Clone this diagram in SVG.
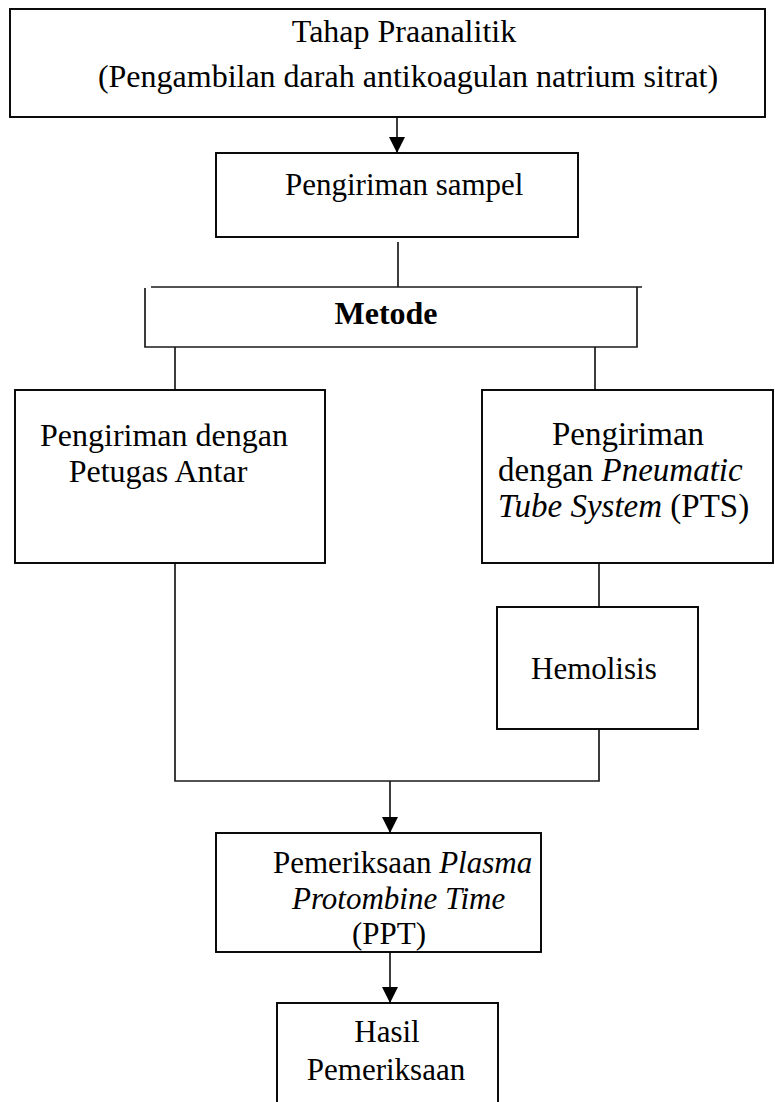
<svg xmlns="http://www.w3.org/2000/svg" width="775" height="1102" viewBox="0 0 775 1102">
<style>
.box{fill:#fff;stroke:#000;stroke-width:1.9}
.ln{fill:none;stroke:#1a1a1a;stroke-width:1.7}
text{font-family:"Liberation Serif","Times New Roman",serif;font-size:32px;fill:#000}
.s{font-size:31px}
.l{font-size:33px}
.m{text-anchor:middle}
.b{font-weight:bold}
.i{font-style:italic}
</style>
<defs>
<marker id="arr" viewBox="0 0 16 16" refX="16" refY="8" markerWidth="16" markerHeight="16" markerUnits="userSpaceOnUse" orient="auto">
<path d="M0,0 L16,8 L0,16 Z" fill="#000"/>
</marker>
</defs>
<rect width="775" height="1102" fill="#fff"/>
<g id="connectors">
<line class="ln" x1="397" y1="117" x2="397" y2="153" marker-end="url(#arr)"/>
<line class="ln" x1="398" y1="242" x2="398" y2="287"/>
<line class="ln" x1="175" y1="347" x2="175" y2="390"/>
<line class="ln" x1="595" y1="347" x2="595" y2="390"/>
<line class="ln" x1="599" y1="563" x2="599" y2="607"/>
<polyline class="ln" points="175,563 175,781 599,781 599,729"/>
<line class="ln" x1="390" y1="781" x2="390" y2="833" marker-end="url(#arr)"/>
<line class="ln" x1="390" y1="952" x2="390" y2="1003" marker-end="url(#arr)"/>
</g>
<g id="n-praanalitik">
<rect class="box" x="10" y="9" width="755" height="108"/>
<text class="m" x="404" y="42">Tahap Praanalitik</text>
<text class="m" x="408" y="87">(Pengambilan darah antikoagulan natrium sitrat)</text>
</g>
<g id="n-pengiriman">
<rect class="box" x="216" y="153" width="362" height="84"/>
<text class="s" x="285" y="195">Pengiriman sampel</text>
</g>
<g id="n-metode">
<line class="ln" x1="151" y1="287" x2="642" y2="287"/>
<polyline class="ln" points="145,288 145,347 637,347 637,287"/>
<text class="m b" x="386" y="324">Metode</text>
</g>
<g id="n-petugas">
<rect class="box" x="15" y="390" width="310" height="173"/>
<text class="m" x="164" y="446">Pengiriman dengan</text>
<text class="m" x="158" y="482">Petugas Antar</text>
</g>
<g id="n-pts">
<rect class="box" x="482" y="390" width="291" height="173"/>
<text class="l m" x="628" y="445">Pengiriman</text>
<text class="l" x="498" y="481">dengan <tspan class="i">Pneumatic</tspan></text>
<text class="l" x="498" y="517"><tspan class="i">Tube System</tspan> (PTS)</text>
</g>
<g id="n-hemolisis">
<rect class="box" x="497" y="607" width="201" height="122"/>
<text class="s" x="531" y="679">Hemolisis</text>
</g>
<g id="n-ppt">
<rect class="box" x="216" y="833" width="325" height="119"/>
<text class="s" x="273" y="873">Pemeriksaan <tspan class="i">Plasma</tspan></text>
<text class="s i" x="292" y="909">Protombine Time</text>
<text class="s" x="352" y="944">(PPT)</text>
</g>
<g id="n-hasil">
<rect class="box" x="277" y="1003" width="221" height="110"/>
<text class="s m" x="387" y="1042">Hasil</text>
<text class="s m" x="386" y="1080">Pemeriksaan</text>
</g>
</svg>
